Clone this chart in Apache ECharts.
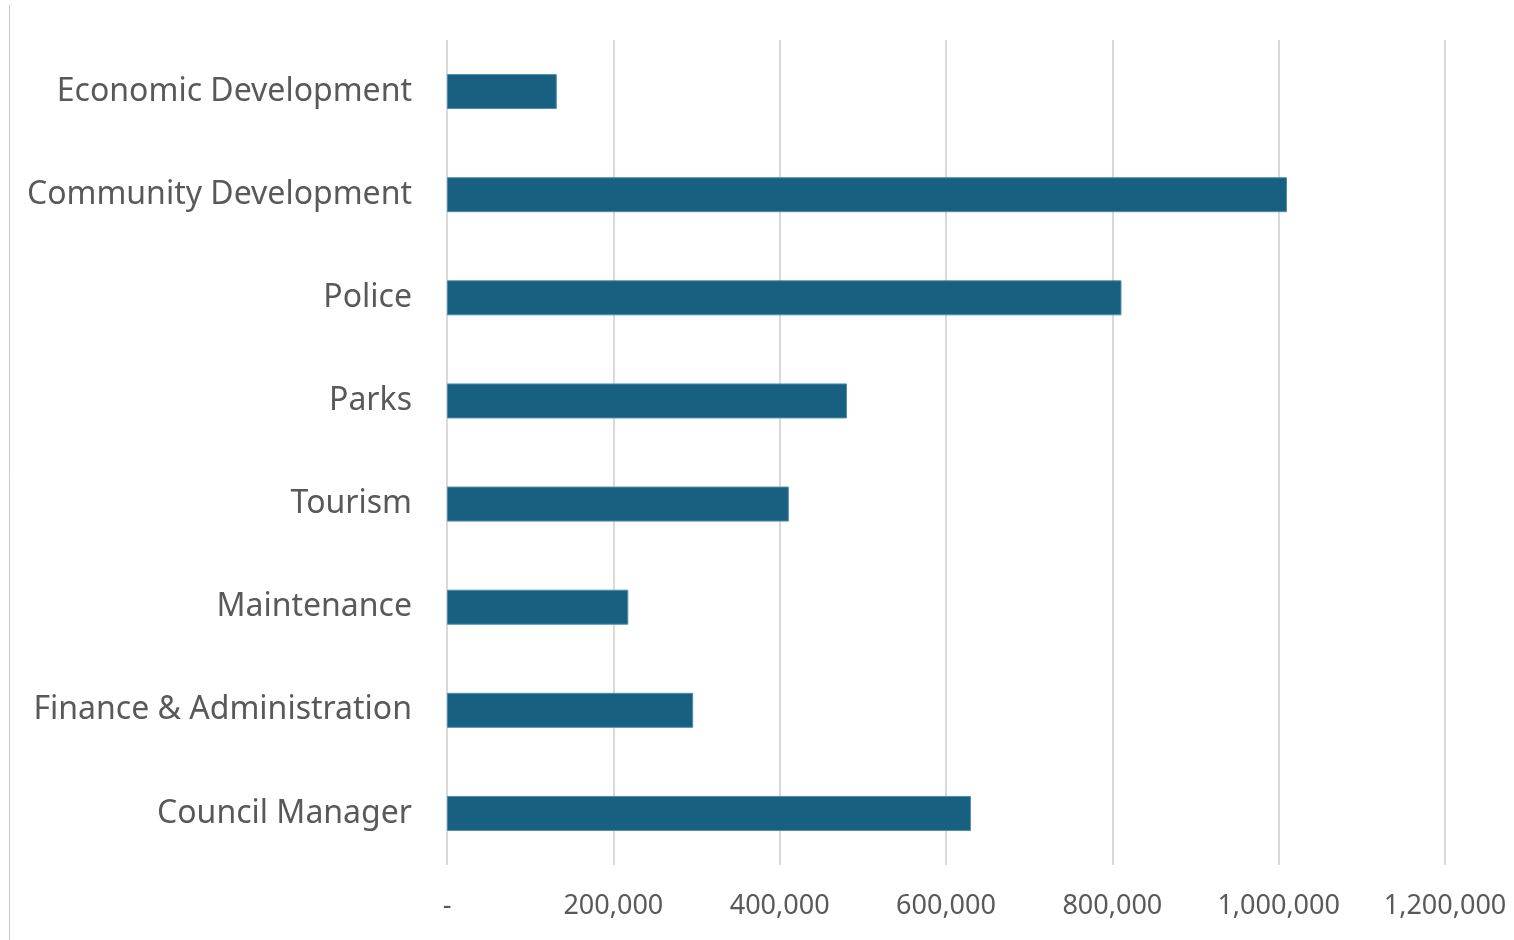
<!DOCTYPE html>
<html>
<head>
<meta charset="utf-8">
<script src="https://cdn.jsdelivr.net/npm/echarts@6/dist/echarts.min.js"></script>
<style>
  html, body { margin: 0; padding: 0; background: #ffffff; }
  #chart { width: 1514px; height: 940px; }
</style>
</head>
<body>
<div id="chart"></div>
<script>
// Budget by department (top to bottom)
const departments = [
  'Economic Development',
  'Community Development',
  'Police',
  'Parks',
  'Tourism',
  'Maintenance',
  'Finance & Administration',
  'Council Manager'
];
const amounts = [132000, 1010000, 811000, 481000, 411000, 218000, 296000, 630000];

const axisMax = 1200000;
const axisStep = 200000;

const textColor = '#595959';
const fontFamily = '"Noto Sans", "Open Sans", sans-serif';

function formatTick(v) {
  return v === 0 ? '-' : v.toLocaleString('en-US');
}

const chart = echarts.init(document.getElementById('chart'), null, { renderer: 'canvas' });

chart.setOption({
  backgroundColor: '#ffffff',
  animation: false,
  grid: { left: 447, right: 69, top: 40, bottom: 75, containLabel: false },
  graphic: [{
    type: 'line',
    shape: { x1: 9.5, y1: 5, x2: 9.5, y2: 940 },
    style: { stroke: '#c8c8c8', lineWidth: 1 }
  }],
  xAxis: {
    type: 'value',
    min: 0,
    max: axisMax,
    interval: axisStep,
    axisLine: { show: false },
    axisTick: { show: false },
    splitLine: { show: true, lineStyle: { color: '#d9d9d9', width: 2 } },
    axisLabel: {
      color: textColor,
      fontFamily: fontFamily,
      fontSize: 27,
      margin: 28,
      formatter: formatTick
    }
  },
  yAxis: {
    type: 'category',
    data: departments,
    inverse: true,
    axisLine: { show: false },
    axisTick: { show: false },
    axisLabel: {
      color: textColor,
      fontFamily: fontFamily,
      fontSize: 32,
      margin: 35,
      padding: [3, 0, 0, 0]
    }
  },
  series: [{
    type: 'bar',
    data: amounts,
    barWidth: 35,
    itemStyle: { color: '#176080', borderColor: '#4f8eaa', borderWidth: 1 }
  }]
});
</script>
</body>
</html>
